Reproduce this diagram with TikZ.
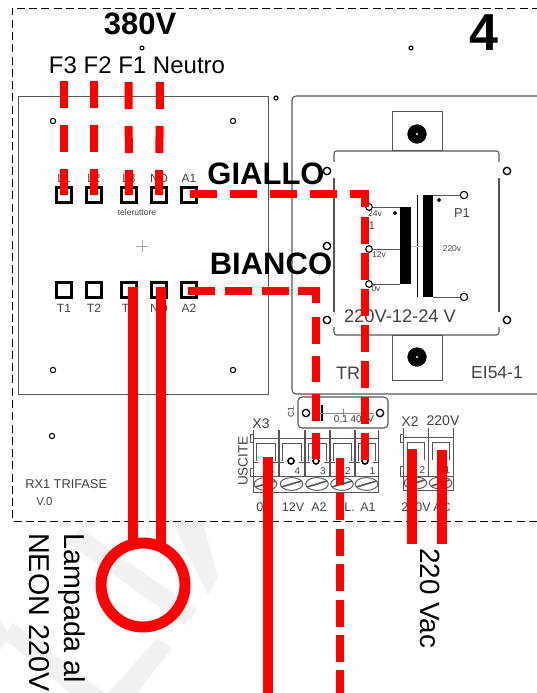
\documentclass[tikz,border=0pt]{standalone}
\usepackage{fontspec}
\setmainfont{Liberation Sans}
\newcommand{\fpx}[1]{\fontsize{\dimexpr#1pt*3/4\relax}{\dimexpr#1pt\relax}\selectfont}
\definecolor{ln}{HTML}{555555}
\definecolor{wm}{HTML}{F1F1F1}
\tikzset{
  term/.style={draw=black,line width=2.3pt,minimum size=11pt,inner sep=0pt,fill=white},
  hole/.style={draw=black,line width=0.8pt,fill=white,circle,inner sep=0pt,minimum size=4pt},
  hole2/.style={draw=black,line width=1pt,fill=white,circle,inner sep=0pt,minimum size=5.5pt},
  pin/.style={draw=black,line width=0.8pt,fill=white,circle,inner sep=0pt,minimum size=5pt},
  bigpin/.style={draw=black,fill=black,circle,inner sep=0pt,minimum size=14pt},
  tinydot/.style={draw=black,fill=black,circle,inner sep=0pt,minimum size=2.5pt},
  termdot/.style={draw=black,line width=1.2pt,fill=white,circle,inner sep=0pt,minimum size=4.5pt},
  lbl/.style={inner sep=0pt,text=black!75},
  redsolid/.style={draw=red,line width=8.2pt},
  reddash/.style={draw=red,line width=6pt},
}
\begin{document}
\begin{tikzpicture}[x=0.75pt,y=-0.75pt]
\useasboundingbox (0,0) rectangle (536,693);
% watermark
\fill[wm] (80,528) -- (197,610) -- (185,625) -- (68,543) -- cycle;
\fill[wm] (172,522) -- (203,522) -- (218,578) -- (208,595) -- cycle;
\fill[wm] (13,623) -- (3,638) -- (70,693) -- (105,693) -- cycle;
\fill[wm] (157,638) -- (172,648) -- (137,693) -- (108,693) -- cycle;
\fill[wm] (0,620) -- (10,635) -- (0,650) -- cycle;
% page frame
\draw[black,line width=0.75pt,dash pattern=on 6pt off 3.2pt] (540,8) -- (12,8) -- (12,521) -- (540,521);
% board
\node[draw=ln,line width=0.7pt,minimum width=187.5pt,minimum height=223.5pt,inner sep=0pt] (board) at (143,245) {};
\draw[black!35,line width=0.4pt] (136,246) -- (148,246) (142,240) -- (142,252);
\foreach \n/\x/\y in {h1/142/48,h2/411/48,h3/276/98}
  \node[hole,minimum size=3pt] (\n) at (\x,\y) {};
\foreach \n/\x/\y in {h4/53/121,h5/233/121,h6/53/370,h7/233/370,h8/52/436}
  \node[hole] (\n) at (\x,\y) {};
% terminals
\foreach \n/\x/\t in {a/64/L1,b/94/L2,c/129/L3,d/159/NO,e/189/A1}{
  \node[term] (\n top) at (\x,195) {};
  \node[lbl] at (\x,178) {\fpx{12}\t};
}
\foreach \n/\x/\t in {f/64/T1,g/94/T2,h/129/T3,i/159/NO,j/189/A2}{
  \node[term] (\n bot) at (\x,290) {};
  \node[lbl] at (\x,308) {\fpx{12}\t};
}
\node[lbl] at (137,212) {\fpx{8.5}teleruttore};
\node[lbl,anchor=west] at (25,484) {\fpx{12.8}RX1 TRIFASE};
\node[lbl,anchor=west] at (36,502) {\fpx{11.5}V.0};
% transformer
\draw[ln,line width=0.8pt,rounded corners=3pt] (540,96) -- (292,96) -- (292,394) -- (540,394);
\draw[ln,line width=0.7pt,fill=white] (392,111) rectangle (442,150);
\draw[ln,line width=0.7pt,fill=white] (392,335) rectangle (442,380);
\node[bigpin] (pt) at (417,134) {};
\node[bigpin] (pb) at (417,357) {};
\fill[white] (pt) circle (0.8pt) (pb) circle (0.8pt);
\draw[ln,line width=0.8pt,rounded corners=2pt] (334,162) -- (334,151) -- (499,151) -- (499,162);
\draw[ln,line width=0.8pt,rounded corners=2pt] (334,327) -- (334,335) -- (499,335) -- (499,327);
\draw[ln,line width=0.8pt] (334,178) -- (334,312) (499,178) -- (499,312);
\foreach \n/\x/\y in {c1/327/171,c2/507/171,c3/327/246,c4/327/320,c5/507/320}
  \node[hole2] (\n) at (\x,\y) {};
\fill[black] (400,207) rectangle (411,284);
\fill[black] (423,195) rectangle (433,297);
\draw[black,line width=0.5pt] (417,195) -- (417,297);
\draw[black!25,line width=0.4pt] (411,246) -- (423,246);
\node[pin] (s1) at (369,207) {};
\node[pin] (s2) at (369,249) {};
\node[pin] (s3) at (369,284) {};
\node[pin,minimum size=5.5pt] (p1) at (464,195) {};
\node[pin,minimum size=5.5pt] (p2) at (464,297) {};
\draw[ln,line width=0.7pt] (s1) -- (400,207) (s2) -- (400,249) (s3) -- (400,284);
\draw[ln,line width=0.7pt] (433,195) -- (p1) (433,297) -- (p2);
\node[tinydot] at (395,213) {};
\node[tinydot] at (439,200) {};
\node[lbl] at (375,214) {\fpx{8.5}24v};
\node[lbl] at (372,226) {\fpx{11}1};
\node[lbl] at (379,255) {\fpx{8.5}12v};
\node[lbl] at (376,289) {\fpx{8.5}0v};
\node[lbl] at (452,249) {\fpx{8.5}220v};
\node[lbl] at (462,213) {\fpx{13}P1};
\node[lbl] at (400,316) {\fpx{18.3}220V-12-24 V};
\node[lbl] at (348,373) {\fpx{18}TR};
\node[lbl] at (497,373) {\fpx{17.5}EI54-1};
% terminal block X3
\draw[ln,line width=0.7pt] (253,476) rectangle (378,492);
\draw[ln,line width=0.7pt] (250,434) rectangle (253,442) (250,468) rectangle (253,476);
\foreach \a/\b/\n in {253/278/5,279/304/4,305/329/3,330/354/2,355/378/1}{
  \draw[ln,line width=0.7pt] (\a,430) -- (\a,476) (\b,430) -- (\b,476);
  \draw[ln,line width=0.7pt] (\a,438) -- (\b,438) (\a+3,443) -- (\b-3,443) -- (\b-3,461) (\a+3,443) -- (\a+3,461);
  \draw[ln,line width=0.5pt] (\a,462) -- (\a+5,462) (\b-5,462) -- (\b,462);
  \draw[ln,line width=0.7pt] ({(\a+\b)/2},484) ellipse (8.5pt and 4.8pt);
  \draw[ln,line width=1.2pt] ({(\a+\b)/2-10},487) -- ({(\a+\b)/2+10},481);
  \node[lbl] at ({(\a+\b)/2+6},471) {\fpx{10}\n};
}
\foreach \n/\x in {q1/291,q2/316,q3/365}
  \node[termdot] (\n) at (\x,461) {};
\node[lbl] at (261,424) {\fpx{14}X3};
\node[lbl,rotate=90] at (243,461) {\fpx{13.5}USCITE};
\foreach \x/\t in {264/0V,293/12V,319/A2,368/A1}
  \node[lbl] at (\x,507) {\fpx{12.5}\t};
\node[lbl,anchor=east] at (355,507) {\fpx{12.5}L.};
% terminal block X2
\draw[ln,line width=0.7pt] (403,476) rectangle (453,490);
\draw[ln,line width=0.7pt] (400,434) rectangle (403,442) (400,466) rectangle (403,476);
\foreach \a/\b/\n in {403/428/2,428/453/1}{
  \draw[ln,line width=0.7pt] (\a,428) -- (\a,476) (\b,428) -- (\b,476);
  \draw[ln,line width=0.7pt] (\a,437) -- (\b,437) (\a+4,442) -- (\b-4,442) -- (\b-4,460) (\a+4,442) -- (\a+4,460);
  \draw[ln,line width=0.7pt] ({(\a+\b)/2},483) ellipse (8.5pt and 4.5pt);
  \draw[ln,line width=1.2pt] ({(\a+\b)/2-9},486) -- ({(\a+\b)/2+9},480);
  \node[lbl] at ({(\a+\b)/2+7},470) {\fpx{10}\n};
}
\node[lbl] at (410,422) {\fpx{14}X2};
\node[lbl] at (443,421) {\fpx{14}220V};
\node[lbl] at (416,507) {\fpx{12.5}220V};
\node[lbl] at (442,507) {\fpx{12.5}AC};
% capacitor
\draw[ln,line width=0.8pt,fill=white,rounded corners=3pt] (298,397) rectangle (388,428);
\node[hole2] (k1) at (306,413) {};
\node[hole2] (k2) at (380,413) {};
\node[lbl,rotate=90] at (291,412) {\fpx{8.5}C1};
\draw[black,line width=1pt] (322,405) -- (322,421);
\draw[black!45,line width=0.4pt] (318,413) -- (374,413) (343,409) -- (343,417);
\node[lbl] at (354,420) {\fpx{10}0,1 400V};
% headings
\node[inner sep=0pt] at (140,24) {\fpx{31}\bfseries 380V};
\node[inner sep=0pt] at (484,33) {\fpx{52}\bfseries 4};
\node[inner sep=0pt] at (137,65) {\fpx{24}F3 F2 F1 Neutro};
\node[inner sep=0pt] at (266,174) {\fpx{31}\bfseries GIALLO};
\node[inner sep=0pt] at (271,264) {\fpx{31}\bfseries BIANCO};
% red wires
\coordinate (f3) at (64,81); \coordinate (f2) at (94,81); \coordinate (f1) at (128.5,82); \coordinate (fn) at (160,82);
\foreach \s/\t in {f3/a,f2/b,f1/c,fn/d}
  \draw[reddash,dash pattern=on 20.25pt off 12.75pt] (\s) -- (\t top.center);
\coordinate (gc) at (365,194);
\coordinate (ge) at (365,460);
\draw[reddash,line width=5.5pt,dash pattern=on 20.25pt off 9.75pt] (189.5,194) -- (gc);
\draw[reddash,dash pattern=on 20pt off 7pt,dash phase=0pt] (365,217) -- (ge);
\draw[reddash,line width=6pt] (352,194) -- (gc) -- (365,207);
\coordinate (bc) at (316,291);
\coordinate (be) at (316,459);
\draw[reddash,line width=5.5pt,dash pattern=on 20.25pt off 7.5pt] (188,291) -- (bc);
\draw[reddash,line width=6pt] (298,291) -- (bc) -- (316,303);
\draw[reddash,dash pattern=on 20pt off 9pt] (316,317) -- (be);
\coordinate (ns) at (339.5,458);
\coordinate (ne) at (339.5,693);
\draw[reddash,dash pattern=on 20.25pt off 6.3pt] (ns) -- (ne);
\coordinate (os) at (268,457); \coordinate (oe) at (268,693);
\draw[redsolid] (os) -- (oe);
\coordinate (ac1s) at (412,449); \coordinate (ac1e) at (412,544);
\coordinate (ac2s) at (442,450); \coordinate (ac2e) at (442,544);
\draw[redsolid] (ac1s) -- (ac1e);
\draw[redsolid] (ac2s) -- (ac2e);
\node[draw=red,line width=8.2pt,circle,minimum size=63pt,inner sep=0pt] (lamp) at (143,585) {};
\draw[redsolid] (133,287) -- (133,546);
\draw[redsolid] (161,287) -- (161,550);
% rotated labels
\node[inner sep=0pt,rotate=-90,anchor=base west] at (65,533) {\fpx{28.7}Lampada al};
\node[inner sep=0pt,rotate=-90,anchor=base west] at (29,533) {\fpx{28.7}NEON 220V};
\node[inner sep=0pt,rotate=-90,anchor=base west] at (420,548) {\fpx{27.8}220 Vac};
\end{tikzpicture}
\end{document}
